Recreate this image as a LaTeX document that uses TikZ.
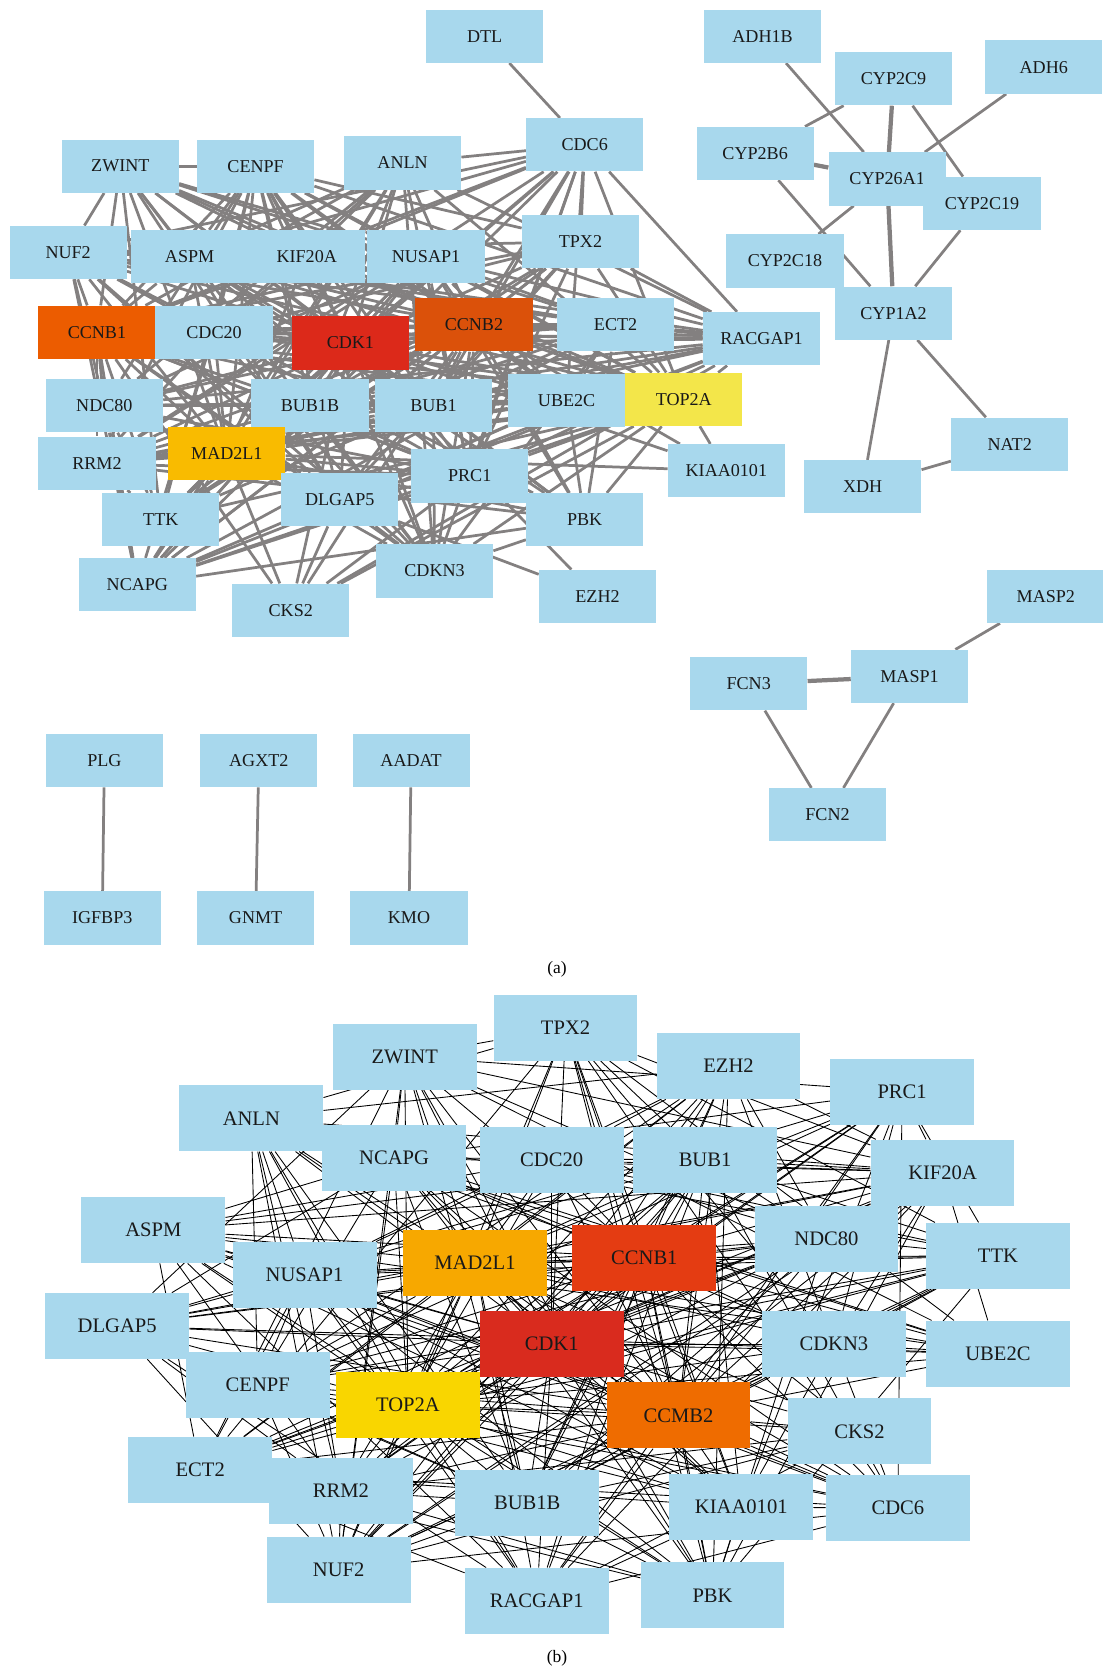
\documentclass[tikz,border=0pt]{standalone}
\usepackage{fontspec}
\setmainfont{Liberation Serif}
\usetikzlibrary{backgrounds}

\definecolor{geneblue}{RGB}{168,216,237}
\definecolor{edgegray}{RGB}{131,128,128}
\definecolor{ccnbA}{RGB}{236,92,0}
\definecolor{cdkA}{RGB}{220,41,26}
\definecolor{ccnbtwoA}{RGB}{219,81,10}
\definecolor{topA}{RGB}{243,230,74}
\definecolor{madA}{RGB}{249,187,0}
\definecolor{madB}{RGB}{247,168,0}
\definecolor{ccnbB}{RGB}{228,60,18}
\definecolor{cdkB}{RGB}{217,43,30}
\definecolor{topB}{RGB}{249,214,0}
\definecolor{ccmbB}{RGB}{239,108,0}

% gene lists for the two hub networks (hubs first)
\newcommand{\hubgenesA}{CDK1,CCNB1,CCNB2,TOP2A,MAD2L1,BUB1,BUB1B,CDC20,UBE2C,TPX2,NUSAP1,KIF20A,ASPM,CENPF,ZWINT,ANLN,CDC6,NUF2,NDC80,RRM2,TTK,NCAPG,CKS2,CDKN3,DLGAP5,PRC1,PBK,ECT2,RACGAP1}
\newcommand{\hubgenesB}{CDK1,CCNB1,CCMB2,TOP2A,MAD2L1,TPX2,ZWINT,EZH2,PRC1,ANLN,NCAPG,CDC20,BUB1,KIF20A,ASPM,NDC80,TTK,NUSAP1,DLGAP5,CDKN3,UBE2C,CENPF,CKS2,ECT2,RRM2,BUB1B,KIAA0101,CDC6,NUF2,RACGAP1,PBK}

\begin{document}
\begin{tikzpicture}[x=0.03cm,y=-0.03cm]
    % Define styles
    \tikzset{
        gene/.style={rectangle, fill=geneblue, text=black!90, inner sep=0pt, minimum width=3.3cm, minimum height=1.5cm, font=\fontsize{14.5}{16}\selectfont},
        geneb/.style={gene, minimum width=4.05cm, minimum height=1.86cm, font=\fontsize{16.5}{18}\selectfont},
        ppi/.style={draw=edgegray, line width=2.2pt},
        ppithick/.style={ppi, line width=3.4pt},
        ppithin/.style={draw=black, line width=0.7pt},
        panel/.style={font=\fontsize{14}{16}\selectfont}
    }
    \useasboundingbox (0,0) rectangle (1035,1568);

    % Nodes (a)
    \node[gene] (a-DTL) at (455,34) {DTL};
    \node[gene] (a-ADH1B) at (716,34) {ADH1B};
    \node[gene] (a-CYP2C9) at (839,74) {CYP2C9};
    \node[gene] (a-ADH6) at (980,63) {ADH6};
    \node[gene] (a-CDC6) at (549,136) {CDC6};
    \node[gene] (a-ZWINT) at (113,156) {ZWINT};
    \node[gene] (a-CENPF) at (240,156) {CENPF};
    \node[gene] (a-ANLN) at (378,153) {ANLN};
    \node[gene] (a-CYP2B6) at (709,144) {CYP2B6};
    \node[gene] (a-CYP26A1) at (833,168) {CYP26A1};
    \node[gene] (a-CYP2C19) at (922,191) {CYP2C19};
    \node[gene] (a-NUF2) at (64,237) {NUF2};
    \node[gene] (a-ASPM) at (178,241) {ASPM};
    \node[gene] (a-KIF20A) at (288,241) {KIF20A};
    \node[gene] (a-NUSAP1) at (400,241) {NUSAP1};
    \node[gene] (a-TPX2) at (545,227) {TPX2};
    \node[gene] (a-CYP2C18) at (737,245) {CYP2C18};
    \node[gene] (a-CYP1A2) at (839,294) {CYP1A2};
    \node[gene, fill=ccnbA] (a-CCNB1) at (91,312) {CCNB1};
    \node[gene] (a-CDC20) at (201,312) {CDC20};
    \node[gene, fill=cdkA] (a-CDK1) at (329,322) {CDK1};
    \node[gene, fill=ccnbtwoA] (a-CCNB2) at (445,305) {CCNB2};
    \node[gene] (a-ECT2) at (578,305) {ECT2};
    \node[gene] (a-RACGAP1) at (715,318) {RACGAP1};
    \node[gene] (a-NDC80) at (98,381) {NDC80};
    \node[gene] (a-BUB1B) at (291,381) {BUB1B};
    \node[gene] (a-BUB1) at (407,381) {BUB1};
    \node[gene] (a-UBE2C) at (532,376) {UBE2C};
    \node[gene, fill=topA] (a-TOP2A) at (642,375) {TOP2A};
    \node[gene] (a-RRM2) at (91,435) {RRM2};
    \node[gene, fill=madA] (a-MAD2L1) at (213,426) {MAD2L1};
    \node[gene] (a-PRC1) at (441,447) {PRC1};
    \node[gene] (a-KIAA0101) at (682,442) {KIAA0101};
    \node[gene] (a-NAT2) at (948,417) {NAT2};
    \node[gene] (a-XDH) at (810,457) {XDH};
    \node[gene] (a-DLGAP5) at (319,469) {DLGAP5};
    \node[gene] (a-TTK) at (151,488) {TTK};
    \node[gene] (a-PBK) at (549,488) {PBK};
    \node[gene] (a-NCAPG) at (129,549) {NCAPG};
    \node[gene] (a-CDKN3) at (408,536) {CDKN3};
    \node[gene] (a-EZH2) at (561,560) {EZH2};
    \node[gene] (a-CKS2) at (273,573) {CKS2};
    \node[gene] (a-MASP2) at (982,560) {MASP2};
    \node[gene] (a-MASP1) at (854,635) {MASP1};
    \node[gene] (a-FCN3) at (703,642) {FCN3};
    \node[gene] (a-FCN2) at (777,765) {FCN2};
    \node[gene] (a-PLG) at (98,714) {PLG};
    \node[gene] (a-AGXT2) at (243,714) {AGXT2};
    \node[gene] (a-AADAT) at (386,714) {AADAT};
    \node[gene] (a-IGFBP3) at (96,862) {IGFBP3};
    \node[gene] (a-GNMT) at (240,862) {GNMT};
    \node[gene] (a-KMO) at (384,862) {KMO};

    % Nodes (b)
    \node[geneb] (b-TPX2) at (531,965) {TPX2};
    \node[geneb] (b-ZWINT) at (380,992) {ZWINT};
    \node[geneb] (b-EZH2) at (684,1001) {EZH2};
    \node[geneb] (b-PRC1) at (847,1025) {PRC1};
    \node[geneb] (b-ANLN) at (236,1050) {ANLN};
    \node[geneb] (b-NCAPG) at (370,1087) {NCAPG};
    \node[geneb] (b-CDC20) at (518,1089) {CDC20};
    \node[geneb] (b-BUB1) at (662,1089) {BUB1};
    \node[geneb] (b-KIF20A) at (885,1101) {KIF20A};
    \node[geneb] (b-ASPM) at (144,1155) {ASPM};
    \node[geneb] (b-NDC80) at (776,1163) {NDC80};
    \node[geneb] (b-TTK) at (937,1179) {TTK};
    \node[geneb] (b-NUSAP1) at (286,1197) {NUSAP1};
    \node[geneb, fill=madB] (b-MAD2L1) at (446,1186) {MAD2L1};
    \node[geneb, fill=ccnbB] (b-CCNB1) at (605,1181) {CCNB1};
    \node[geneb] (b-DLGAP5) at (110,1245) {DLGAP5};
    \node[geneb, fill=cdkB] (b-CDK1) at (518,1262) {CDK1};
    \node[geneb] (b-CDKN3) at (783,1262) {CDKN3};
    \node[geneb] (b-UBE2C) at (937,1271) {UBE2C};
    \node[geneb] (b-CENPF) at (242,1300) {CENPF};
    \node[geneb, fill=topB] (b-TOP2A) at (383,1319) {TOP2A};
    \node[geneb, fill=ccmbB] (b-CCMB2) at (637,1329) {CCMB2};
    \node[geneb] (b-CKS2) at (807,1344) {CKS2};
    \node[geneb] (b-ECT2) at (188,1380) {ECT2};
    \node[geneb] (b-RRM2) at (320,1400) {RRM2};
    \node[geneb] (b-BUB1B) at (495,1411) {BUB1B};
    \node[geneb] (b-KIAA0101) at (696,1415) {KIAA0101};
    \node[geneb] (b-CDC6) at (843,1416) {CDC6};
    \node[geneb] (b-NUF2) at (318,1474) {NUF2};
    \node[geneb] (b-RACGAP1) at (504,1503) {RACGAP1};
    \node[geneb] (b-PBK) at (669,1498) {PBK};

    % Edges
    \begin{scope}[on background layer]
        % hub network (a): hubs to all, the rest a fixed subset
        \foreach \u [count=\i] in \hubgenesA {
            \foreach \v [count=\j] in \hubgenesA {
                \ifnum\j>\i
                    \pgfmathtruncatemacro\h{mod(\i*\j*11+\i*37+\j*59,97)}
                    \ifnum\i<6 \def\h{0}\fi
                    \ifnum\h<45 \draw[ppi] (a-\u) -- (a-\v);\fi
                \fi
            }
        }
        \draw[ppi] (a-ZWINT) -- (a-CENPF);
        \draw[ppi] (a-DTL) -- (a-CDC6);
        \draw[ppithick] (a-ECT2) -- (a-RACGAP1);
        \draw[ppi] (a-EZH2) -- (a-DLGAP5);
        \draw[ppi] (a-EZH2) -- (a-CDK1);
        \foreach \v in {TOP2A,CDK1,CCNB2,MAD2L1}
            \draw[ppi] (a-KIAA0101) -- (a-\v);

        % CYP cluster
        \draw[ppi] (a-ADH1B) -- (a-CYP26A1);
        \draw[ppi] (a-CYP2C9) -- (a-CYP2B6);
        \draw[ppithick] (a-CYP2C9) -- (a-CYP26A1);
        \draw[ppi] (a-CYP2C9) -- (a-CYP2C19);
        \draw[ppi] (a-ADH6) -- (a-CYP26A1);
        \draw[ppithick] (a-CYP2B6) -- (a-CYP26A1);
        \draw[ppi] (a-CYP2B6) -- (a-CYP1A2);
        \draw[ppi] (a-CYP26A1) -- (a-CYP2C18);
        \draw[ppithick] (a-CYP26A1) -- (a-CYP1A2);
        \draw[ppi] (a-CYP2C19) -- (a-CYP1A2);
        \draw[ppi] (a-CYP1A2) -- (a-XDH);
        \draw[ppi] (a-CYP1A2) -- (a-NAT2);
        \draw[ppi] (a-XDH) -- (a-NAT2);

        % small clusters
        \draw[ppi] (a-MASP2) -- (a-MASP1);
        \draw[ppithick] (a-FCN3) -- (a-MASP1);
        \draw[ppi] (a-FCN3) -- (a-FCN2);
        \draw[ppi] (a-MASP1) -- (a-FCN2);
        \draw[ppi] (a-PLG) -- (a-IGFBP3);
        \draw[ppi] (a-AGXT2) -- (a-GNMT);
        \draw[ppi] (a-AADAT) -- (a-KMO);

        % hub network (b)
        \foreach \u [count=\i] in \hubgenesB {
            \foreach \v [count=\j] in \hubgenesB {
                \ifnum\j>\i
                    \pgfmathtruncatemacro\h{mod(\i*\j*11+\i*37+\j*59,97)}
                    \ifnum\i<6 \def\h{0}\fi
                    \ifnum\h<45 \draw[ppithin] (b-\u) -- (b-\v);\fi
                \fi
            }
        }
    \end{scope}

    % Panel labels
    \node[panel] (label_a) at (523,910) {(a)};
    \node[panel] (label_b) at (523,1557) {(b)};
\end{tikzpicture}
\end{document}
